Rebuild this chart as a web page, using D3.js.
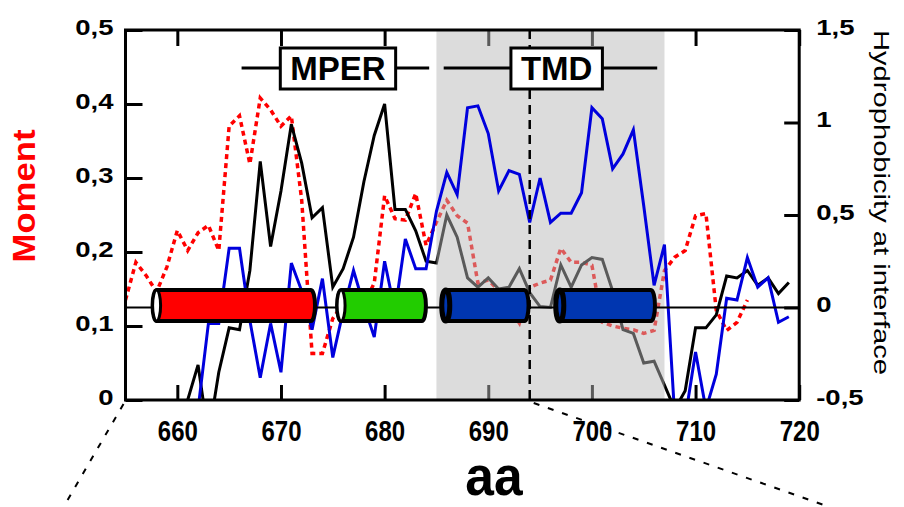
<!DOCTYPE html>
<html>
<head>
<script src="https://d3js.org/d3.v7.min.js"></script>
<style>
  body { margin: 0; background: #fff; }
  svg { display: block; font-family: "Liberation Sans", Arial, sans-serif; }
</style>
</head>
<body>
<svg id="chart"></svg>
<script>
// ---- data ----
const xTicks = [660, 670, 680, 690, 700, 710, 720];
const momentTicks = [0, 0.1, 0.2, 0.3, 0.4, 0.5];
const hydroTicks = [-0.5, 0, 0.5, 1, 1.5];

// hydrophobic moment (left axis), residues 655..715
const momentStart = 655;
const moment = [0.135, 0.186, 0.168, 0.146, 0.18, 0.229, 0.202, 0.226, 0.236, 0.202,
  0.37, 0.384, 0.319, 0.408, 0.392, 0.37, 0.384, 0.27, 0.063, 0.063,
  0.11, 0.13, 0.14, 0.13, 0.158, 0.276, 0.245, 0.243, 0.279, 0.209,
  0.24, 0.27, 0.249, 0.239, 0.158, 0.162, 0.148, 0.125, 0.104, 0.152,
  0.158, 0.162, 0.205, 0.186, 0.186, 0.182, 0.105, 0.1, 0.097, 0.095,
  0.09, 0.094, 0.175, 0.193, 0.202, 0.249, 0.252, 0.121, 0.094, 0.105, 0.135];

// hydrophobicity at interface (right axis), residues 661..719
const hydroStart = 661;
const hydro = [-0.5, -0.31, -0.7, -0.35, -0.11, -0.12, 0.2, 0.79, 0.33, 0.63,
  0.99, 0.78, 0.485, 0.54, 0.11, 0.21, 0.38, 0.68, 0.93, 1.1,
  0.53, 0.53, 0.415, 0.25, 0.24, 0.5, 0.38, 0.16, 0.11, 0.16,
  0.1, 0.11, 0.21, 0.08, 0.005, 0, 0.23, 0.11, 0.23, 0.27,
  0.26, 0.09, -0.12, -0.14, -0.3, -0.29, -0.42, -0.55, -0.45, -0.11,
  -0.11, -0.04, 0.17, 0.16, 0.2, 0.12, 0.16, 0.075, 0.135];

// second hydrophobicity profile (blue, right axis), residues 662..719
const blueStart = 662;
const blue = [-0.55, -0.086, -0.086, 0.32, 0.32, -0.07, -0.38, -0.086, -0.35, 0.24,
  0.09, -0.12, 0.156, -0.27, -0.02, 0.2, 0.01, -0.16, 0.25, -0.02,
  0.37, 0.21, 0.21, 0.52, 0.73, 0.61, 1.08, 1.09, 0.94, 0.63,
  0.74, 0.72, 0.46, 0.70, 0.46, 0.51, 0.51, 0.62, 1.08, 1.02,
  0.75, 0.83, 0.96, 0.55, 0.12, 0.34, -0.6, -0.6, -0.24, -0.55,
  -0.36, 0.05, 0.04, 0.27, 0.11, 0.16, -0.08, -0.05];

// helices (residue ranges) and domains
const helixFrom = [658.0, 675.8, 685.9, 696.9];
const helixTo = [672.9, 683.6, 693.5, 705.7];
const helixColor = ["#ff0000", "#22cc00", "#0036b0", "#0036b0"];
const helixOpen = [true, true, false, false];
const domainNames = ["MPER", "TMD"];
const domainFrom = [666.2, 685.7];
const domainTo = [684.3, 706.3];
const domainLabelAt = [675.5, 696.6];
const tmdShade = [685, 707];
const cutSite = 694;

// ---- layout ----
const width = 904, height = 507;
const x = d3.scaleLinear().domain([655, 720]).range([125.5, 799.2]);
const yL = d3.scaleLinear().domain([0, 0.5]).range([400, 30]);
const yR = d3.scaleLinear().domain([-0.5, 1.5]).range([400, 30]);
const pLeft = x(655), pRight = x(720), pTop = yL(0.5), pBottom = yL(0);
const comma = d => String(d).replace(".", ",");

const svg = d3.select("#chart").attr("width", width).attr("height", height);

svg.append("defs").append("clipPath").attr("id", "plot")
  .append("rect").attr("x", pLeft).attr("y", pTop)
  .attr("width", pRight - pLeft).attr("height", pBottom - pTop);

function stretch(sel, k) {
  sel.each(function () {
    const w = this.getComputedTextLength();
    d3.select(this).attr("textLength", w * k).attr("lengthAdjust", "spacingAndGlyphs");
  });
}

const under = svg.append("g").attr("clip-path", "url(#plot)");

// red dotted moment
under.append("path")
  .datum(moment)
  .attr("fill", "none").attr("stroke", "#ff0000")
  .attr("stroke-width", 3.5).attr("stroke-dasharray", "5,4")
  .attr("d", d3.line().x((d, i) => x(momentStart + i)).y(d => yL(d)));

// black hydrophobicity
under.append("path")
  .datum(hydro)
  .attr("fill", "none").attr("stroke", "#000")
  .attr("stroke-width", 3)
  .attr("d", d3.line().x((d, i) => x(hydroStart + i)).y(d => yR(d)));

// ticks (inward)
function styleAxis(g) {
  g.select(".domain").remove();
  g.selectAll(".tick line").attr("stroke", "#000").attr("stroke-width", 3);
  g.selectAll("text").attr("fill", "#000").attr("font-weight", "bold");
}

const axTop = svg.append("g").attr("transform", `translate(0,${pTop})`)
  .call(d3.axisTop(x).tickValues(xTicks).tickSize(-16).tickFormat(""));
styleAxis(axTop);

const axBottom = svg.append("g").attr("transform", `translate(0,${pBottom})`)
  .call(d3.axisBottom(x).tickValues(xTicks).tickSize(-15).tickPadding(20).tickFormat(d3.format("d")));
styleAxis(axBottom);
axBottom.selectAll("text").attr("font-size", 30).attr("dy", "0.7em");
stretch(axBottom.selectAll("text"), 0.8);

const axLeft = svg.append("g").attr("transform", `translate(${pLeft},0)`)
  .call(d3.axisLeft(yL).tickValues(momentTicks).tickSize(-17).tickPadding(12).tickFormat(comma));
styleAxis(axLeft);
axLeft.selectAll("text").attr("font-size", 22).attr("dy", "0.2em");
stretch(axLeft.selectAll("text"), 1.25);

const axRight = svg.append("g").attr("transform", `translate(${pRight},0)`)
  .call(d3.axisRight(yR).tickValues(hydroTicks).tickSize(-15).tickPadding(17).tickFormat(comma));
styleAxis(axRight);
axRight.selectAll("text").attr("font-size", 22).attr("dy", "0.2em");
stretch(axRight.selectAll("text"), 1.25);

// TMD shading (translucent, lies over the moment/black curves)
svg.append("rect")
  .attr("x", x(tmdShade[0])).attr("y", pTop)
  .attr("width", x(tmdShade[1]) - x(tmdShade[0])).attr("height", pBottom - pTop)
  .attr("fill", "rgb(184,184,184)").attr("fill-opacity", 0.49);

// blue profile, above the shading
const over = svg.append("g").attr("clip-path", "url(#plot)");
over.append("path")
  .datum(blue)
  .attr("fill", "none").attr("stroke", "#0000dd")
  .attr("stroke-width", 3)
  .attr("d", d3.line().x((d, i) => x(blueStart + i)).y(d => yR(d)));

// zero line of right axis
svg.append("line")
  .attr("x1", pLeft).attr("x2", pRight).attr("y1", yR(0)).attr("y2", yR(0))
  .attr("stroke", "#000").attr("stroke-width", 2);

// helices as cylinders
const cy = yR(0) - 2, hh = 15.5, rx = 4;
helixFrom.forEach((a, i) => {
  const x0 = x(a), x1 = x(helixTo[i]);
  const g = svg.append("g");
  g.append("path")
    .attr("d", `M${x0},${cy - hh}L${x1},${cy - hh}A${rx},${hh} 0 0 1 ${x1},${cy + hh}` +
      `L${x0},${cy + hh}A${rx},${hh} 0 0 1 ${x0},${cy - hh}Z`)
    .attr("fill", helixColor[i]).attr("stroke", "#000").attr("stroke-width", 4);
  g.append("ellipse")
    .attr("cx", x0).attr("cy", cy).attr("rx", rx).attr("ry", hh)
    .attr("fill", helixOpen[i] ? "#fff" : helixColor[i])
    .attr("stroke", "#000").attr("stroke-width", helixOpen[i] ? 3 : 5);
});

// cut site
svg.append("line")
  .attr("x1", x(cutSite)).attr("x2", x(cutSite)).attr("y1", pTop).attr("y2", pBottom)
  .attr("stroke", "#000").attr("stroke-width", 2.5).attr("stroke-dasharray", "9,6");

// domains
const domY = 68;
domainNames.forEach((name, i) => {
  svg.append("line")
    .attr("x1", x(domainFrom[i])).attr("x2", x(domainTo[i]))
    .attr("y1", domY).attr("y2", domY)
    .attr("stroke", "#000").attr("stroke-width", 3);
  const t = svg.append("text")
    .attr("x", x(domainLabelAt[i])).attr("y", domY + 12)
    .attr("text-anchor", "middle").attr("font-size", 33).attr("font-weight", "bold")
    .text(name);
  const w = t.node().getComputedTextLength() + 20;
  svg.insert("rect", () => t.node())
    .attr("x", x(domainLabelAt[i]) - w / 2).attr("y", domY - 20)
    .attr("width", w).attr("height", 41)
    .attr("fill", "#fff").attr("stroke", "#000").attr("stroke-width", 3);
});

// frame
svg.append("rect")
  .attr("x", pLeft).attr("y", pTop).attr("width", pRight - pLeft).attr("height", pBottom - pTop)
  .attr("fill", "none").attr("stroke", "#000").attr("stroke-width", 3);

// zoom lines below the axis
svg.append("line")
  .attr("x1", pLeft - 2).attr("y1", pBottom + 4).attr("x2", pLeft - 62).attr("y2", height)
  .attr("stroke", "#000").attr("stroke-width", 2).attr("stroke-dasharray", "6,9");
svg.append("line")
  .attr("x1", x(cutSite) + 4).attr("y1", pBottom + 3).attr("x2", x(cutSite) + 300).attr("y2", height)
  .attr("stroke", "#000").attr("stroke-width", 2).attr("stroke-dasharray", "6,9");

// axis titles
const xt = svg.append("text")
  .attr("x", 494).attr("y", 495).attr("text-anchor", "middle")
  .attr("font-size", 56).attr("font-weight", "bold").text("aa");
stretch(xt, 0.92);

svg.append("text")
  .attr("transform", "translate(35,196) rotate(-90)")
  .attr("text-anchor", "middle").attr("font-size", 32).attr("font-weight", "bold")
  .attr("fill", "#ff0000").attr("textLength", 133).attr("lengthAdjust", "spacingAndGlyphs")
  .text("Moment");

svg.append("text")
  .attr("transform", "translate(874,30) rotate(90)")
  .attr("font-size", 22).attr("fill", "#000")
  .attr("textLength", 345).attr("lengthAdjust", "spacingAndGlyphs")
  .text("Hydrophobicity at interface");
</script>
</body>
</html>
